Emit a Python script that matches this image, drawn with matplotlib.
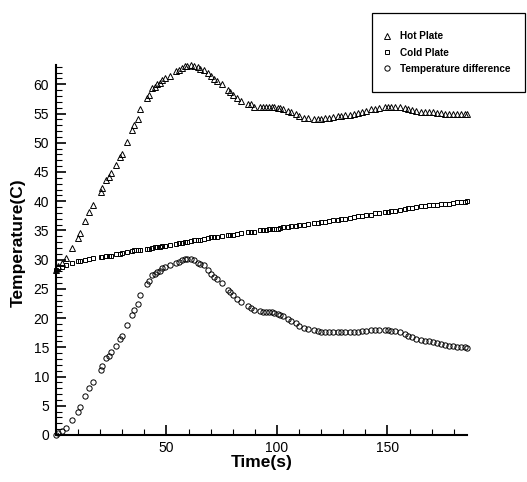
import numpy as np
import matplotlib
matplotlib.use('Agg')
import matplotlib.pyplot as plt
import matplotlib.ticker as ticker
from matplotlib.patches import Rectangle

plt.rcParams['font.family'] = ['Liberation Sans', 'DejaVu Sans']

# time (s)
time = [0, 1.0, 2.5, 4.7, 7.3, 10.0, 10.8, 13.0, 15.0, 16.8, 20.3, 20.9, 22.8, 23.9,
        25.1, 27.1, 28.9, 29.9, 32.2, 34.2, 35.4, 36.9, 37.9, 41.2, 41.9, 43.4, 44.6,
        45.8, 46.9, 48.1, 49.2, 51.4, 54.4, 55.6, 57.1, 58.2, 59.4, 60.9, 62.4, 64.2,
        65.3, 66.9, 68.7, 70.2, 71.7, 72.8, 75.0, 77.7, 78.8, 80.3, 81.8, 83.5, 86.8,
        88.3, 89.8, 92.4, 93.6, 95.1, 96.6, 97.6, 98.8, 100.3, 101.5, 102.9, 104.8,
        106.3, 108.6, 110.1, 112.3, 114.1, 116.8, 118.6, 120.1, 121.6, 123.4, 125.4,
        127.4, 129.2, 131.0, 132.9, 134.9, 136.7, 138.6, 140.5, 142.4, 144.3, 146.1,
        148.8, 150.3, 151.8, 153.6, 155.6, 157.8, 159.4, 160.9, 163.1, 165.1, 166.9,
        168.7, 170.5, 172.3, 174.1, 176.0, 177.8, 179.6, 181.4, 183.2, 185.0, 186.0]

hot_plate = [28.3, 28.9, 29.4, 30.3, 32.0, 33.7, 34.6, 36.6, 38.1, 39.3, 41.6, 42.2, 43.7, 44.2,
             44.9, 46.2, 47.5, 48.1, 50.2, 52.1, 53.0, 54.1, 55.7, 57.7, 58.2, 59.3, 59.6,
             60.1, 60.3, 60.8, 61.1, 61.5, 62.2, 62.4, 62.8, 63.1, 63.2, 63.3, 63.2, 62.9,
             62.6, 62.5, 61.9, 61.4, 60.9, 60.6, 60.0, 59.0, 58.6, 58.2, 57.7, 57.2, 56.7,
             56.6, 56.2, 56.2, 56.1, 56.1, 56.2, 56.2, 56.2, 56.0, 56.0, 55.8, 55.5,
             55.2, 54.9, 54.6, 54.3, 54.3, 54.1, 54.1, 54.1, 54.2, 54.3, 54.4,
             54.5, 54.6, 54.7, 54.8, 55.0, 55.1, 55.3, 55.4, 55.7, 55.8, 56.0,
             56.2, 56.2, 56.1, 56.2, 56.1, 56.0, 55.8, 55.6, 55.4, 55.3, 55.3,
             55.3, 55.3, 55.1, 55.1, 55.0, 54.9, 54.9, 54.9, 55.0, 54.9, 54.9]

cold_plate = [28.3, 28.6, 28.8, 29.1, 29.4, 29.7, 29.8, 30.0, 30.1, 30.2, 30.4, 30.4, 30.6, 30.6,
              30.7, 30.9, 31.0, 31.1, 31.3, 31.5, 31.6, 31.7, 31.7, 31.9, 31.9, 32.0, 32.1,
              32.2, 32.2, 32.3, 32.3, 32.5, 32.7, 32.8, 32.9, 33.0, 33.1, 33.2, 33.3, 33.4,
              33.4, 33.5, 33.7, 33.8, 33.9, 33.9, 34.0, 34.2, 34.2, 34.3, 34.4, 34.5, 34.7,
              34.8, 34.8, 35.0, 35.0, 35.1, 35.2, 35.2, 35.3, 35.3, 35.4, 35.5, 35.6,
              35.7, 35.8, 35.9, 36.0, 36.1, 36.2, 36.3, 36.4, 36.5, 36.6, 36.7,
              36.8, 36.9, 37.0, 37.1, 37.3, 37.4, 37.5, 37.6, 37.7, 37.9, 38.0,
              38.2, 38.2, 38.3, 38.4, 38.5, 38.7, 38.8, 38.9, 39.0, 39.1, 39.2,
              39.3, 39.4, 39.4, 39.5, 39.6, 39.6, 39.7, 39.8, 39.9, 39.9, 40.0]

temp_diff = [0.0, 0.3, 0.6, 1.2, 2.6, 4.0, 4.8, 6.6, 8.0, 9.1, 11.2, 11.8, 13.1, 13.6,
             14.2, 15.3, 16.5, 17.0, 18.9, 20.6, 21.4, 22.4, 24.0, 25.8, 26.3, 27.3, 27.5,
             27.9, 28.1, 28.5, 28.8, 29.0, 29.5, 29.6, 29.9, 30.1, 30.1, 30.1, 29.9, 29.5,
             29.2, 29.0, 28.2, 27.6, 27.0, 26.7, 26.0, 24.8, 24.4, 23.9, 23.3, 22.7, 22.0,
             21.8, 21.4, 21.2, 21.1, 21.0, 21.0, 21.0, 20.9, 20.7, 20.6, 20.3, 19.9,
             19.5, 19.1, 18.7, 18.3, 18.2, 17.9, 17.8, 17.7, 17.7, 17.7, 17.7,
             17.7, 17.7, 17.7, 17.7, 17.7, 17.7, 17.8, 17.8, 18.0, 17.9, 18.0,
             18.0, 18.0, 17.8, 17.8, 17.6, 17.3, 17.0, 16.7, 16.4, 16.2, 16.1,
             16.0, 15.9, 15.7, 15.6, 15.4, 15.3, 15.2, 15.1, 15.1, 15.0, 14.9]

fig = plt.figure(figsize=(5.27, 4.82), dpi=100)
ax = fig.add_axes([56 / 527, 1 - 435 / 482, 411 / 527, 370 / 482])

mk = dict(linestyle='none', mfc='none', mec='black', mew=0.7, clip_on=False)
h1, = ax.plot(time, hot_plate, marker='^', ms=3.9, label='Hot Plate', **mk)
h2, = ax.plot(time, cold_plate, marker='s', ms=3.0, label='Cold Plate', **mk)
h3, = ax.plot(time, temp_diff, marker='o', ms=3.8, label='Temperature difference', **mk)

ax.set_xlim(0, 186)
ax.set_ylim(0, 63.3)

ax.spines['top'].set_visible(False)
ax.spines['right'].set_visible(False)
ax.spines['left'].set_linewidth(1.5)
ax.spines['bottom'].set_linewidth(1.5)

ax.xaxis.set_major_locator(ticker.FixedLocator([50, 100, 150]))
ax.xaxis.set_minor_locator(ticker.FixedLocator([10, 20, 30, 40, 60, 70, 80, 90, 110, 120,
                                                130, 140, 160, 170, 180]))
ax.yaxis.set_major_locator(ticker.MultipleLocator(5))
ax.yaxis.set_minor_locator(ticker.MultipleLocator(1))

ax.tick_params(which='major', direction='in', length=7.5, width=1.2, labelsize=10, pad=4)
ax.tick_params(which='minor', direction='in', length=4.5, width=0.8)
ax.tick_params(axis='y', which='major', pad=5)

fig.text(262 / 527, 1 - 462 / 482, 'Time(s)', ha='center', va='center',
         fontsize=12.5, fontweight='bold')
fig.text(18 / 527, 1 - 243 / 482, 'Temperature(C)', ha='center', va='center',
         rotation=90, fontsize=12.5, fontweight='bold')

# legend box
fig.add_artist(Rectangle((372 / 527, 1 - 92 / 482), 153 / 527, 79 / 482,
                         transform=fig.transFigure, fill=False, ec='black', lw=0.9))
leg = fig.legend(handles=[h1, h2, h3], loc='center left', frameon=False,
                 bbox_to_anchor=(381 / 527, 1 - 52.5 / 482), numpoints=1,
                 handlelength=1.2, handletextpad=0.7, labelspacing=0.62,
                 prop={'size': 7.2, 'weight': 'bold'}, borderaxespad=0, borderpad=0)

fig.savefig('out.png', dpi=100)
